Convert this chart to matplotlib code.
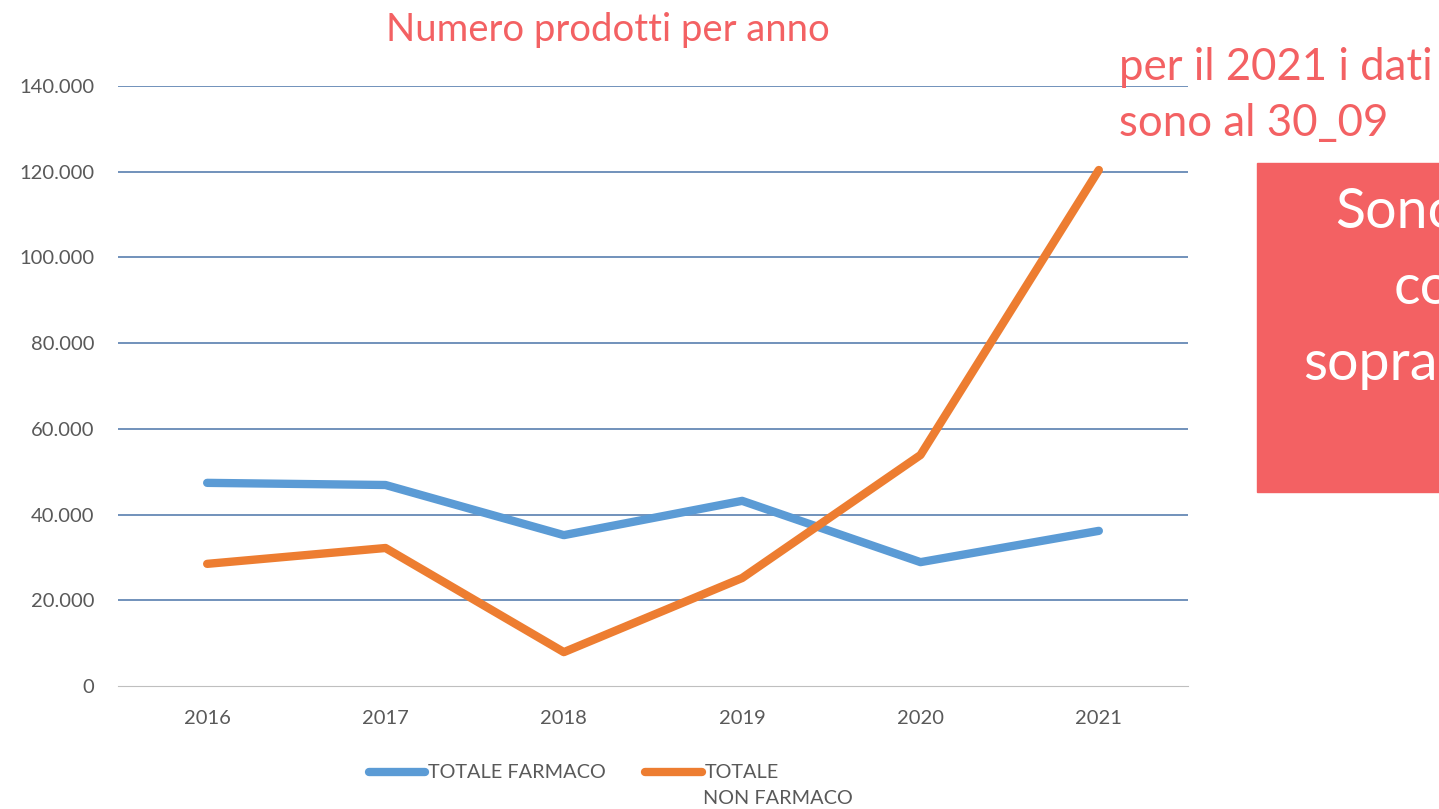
import matplotlib.pyplot as plt
from matplotlib.patches import Rectangle

anni = ['2016', '2017', '2018', '2019', '2020', '2021']
farmaco = [47400, 46900, 35200, 43200, 28900, 36200]
non_farmaco = [28500, 32200, 7900, 25200, 53900, 120400]
yticks = [0, 20000, 40000, 60000, 80000, 100000, 120000, 140000]
ytick_labels = ['0', '20.000', '40.000', '60.000', '80.000', '100.000', '120.000', '140.000']

plt.rcParams['font.family'] = ['Lato', 'DejaVu Sans']
red = '#f36163'
grey = '#595959'

fig = plt.figure(figsize=(14.39, 8.09), dpi=100)
ax = fig.add_axes([118/1439, 1 - 686/809, 1070/1439, 600/809])

x = range(len(anni))
ax.plot(x, farmaco, color='#5b9bd5', lw=6, solid_capstyle='round', solid_joinstyle='round', label='TOTALE FARMACO', zorder=3)
ax.plot(x, non_farmaco, color='#ed7d31', lw=6, solid_capstyle='round', solid_joinstyle='round', label='TOTALE', zorder=3)

ax.set_xlim(-0.5, 5.5)
ax.set_ylim(0, 140000)
ax.set_xticks(list(x))
ax.set_xticklabels(anni)
ax.set_yticks(yticks)
ax.set_yticklabels(ytick_labels)
ax.tick_params(length=0, labelsize=14.5, colors=grey)
ax.tick_params(axis='y', pad=17)
ax.tick_params(axis='x', pad=17)
for t in yticks[1:]:
    ax.axhline(t, color='#4a74a8', lw=1.1, zorder=1)
for s in ['top', 'right', 'left']:
    ax.spines[s].set_visible(False)
ax.spines['bottom'].set_color('#bfbfbf')

leg = ax.legend(loc='upper left', bbox_to_anchor=(233/1070, -0.101), ncol=2, frameon=False,
                fontsize=14.3, handlelength=2.85, handletextpad=0.15, columnspacing=1.95,
                labelcolor=grey)
fig.text(703/1439, 1 - 798/809, 'NON FARMACO', fontsize=14.3, color=grey, va='center', ha='left')

fig.text(608/1439, 1 - 30/809, 'Numero prodotti per anno', fontsize=27.5, color=red, ha='center', va='center')
fig.text(1119/1439, 1 - 68/809, 'per il 2021 i dati', fontsize=31.5, color=red, ha='left', va='center')
fig.text(1119/1439, 1 - 124/809, 'sono al 30_09', fontsize=31.5, color=red, ha='left', va='center')

fig.patches.append(Rectangle((1257/1439, 1 - 492/809), 300/1439, 329/809,
                             transform=fig.transFigure, color=red, zorder=0))
fig.text(1335/1439, 1 - 213/809, 'Sono', fontsize=40, color='white', ha='left', va='center')
fig.text(1394/1439, 1 - 288/809, 'co', fontsize=40, color='white', ha='left', va='center')
fig.text(1303/1439, 1 - 365/809, 'sopra', fontsize=40, color='white', ha='left', va='center')

fig.savefig('out.png', dpi=100)
